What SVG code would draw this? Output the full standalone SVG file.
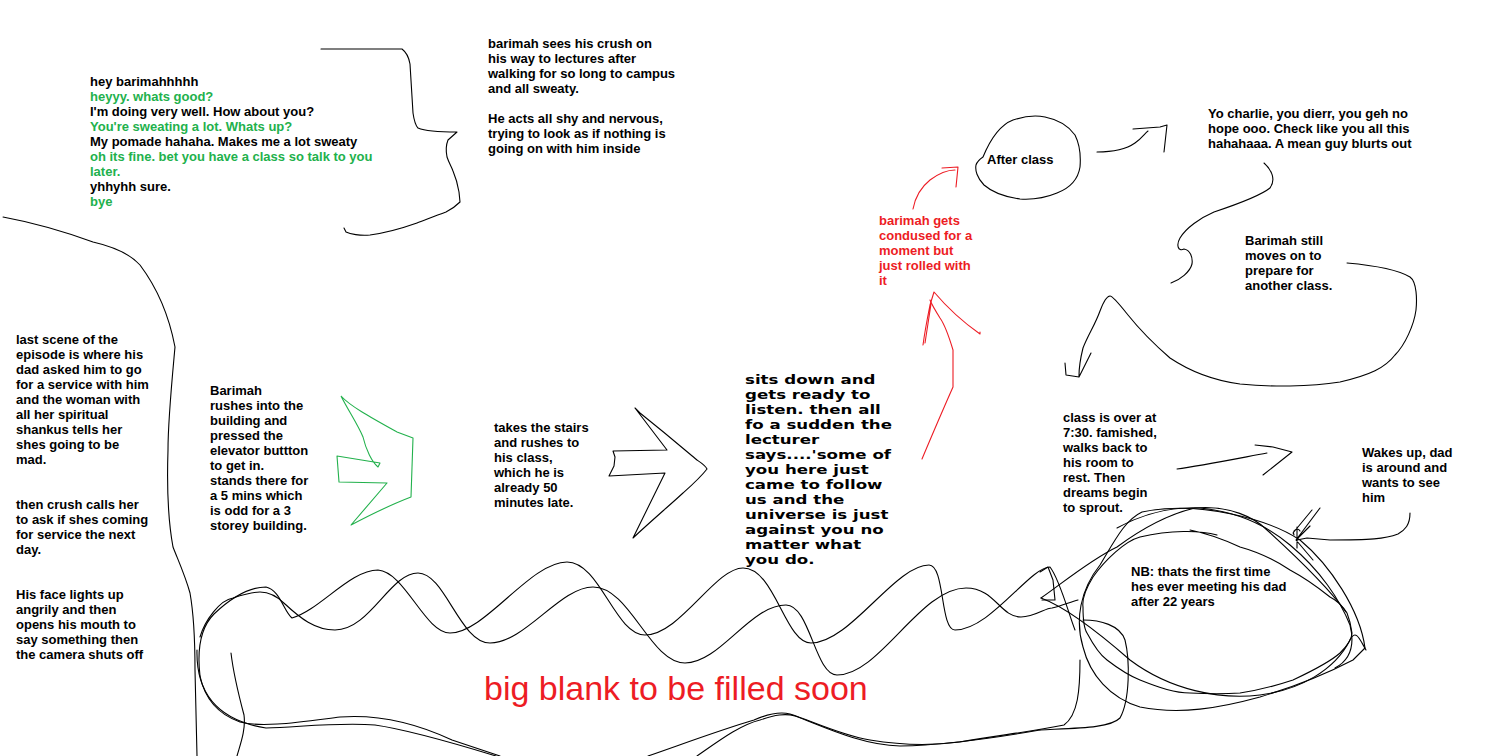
<svg xmlns="http://www.w3.org/2000/svg" width="1489" height="756" viewBox="0 0 1489 756">
<style>
.t{font-family:"Liberation Sans",Arial,sans-serif;font-weight:bold;font-size:13px;fill:#000}
.g{fill:#22b14c}
.r{fill:#ed1c24}
.w{font-family:"DejaVu Sans",Verdana,sans-serif;font-weight:bold;font-size:13px;fill:#000}
.big{font-family:"Liberation Sans",Arial,sans-serif;font-size:34px;fill:#ed1c24}
.ln{fill:none;stroke:#000;stroke-width:1.1;stroke-linejoin:round;stroke-linecap:round}
.gl{fill:none;stroke:#22b14c;stroke-width:1.1;stroke-linejoin:round}
.rl{fill:none;stroke:#ed1c24;stroke-width:1.1;stroke-linejoin:round;stroke-linecap:round}
</style>
<rect width="1489" height="756" fill="#fff"/>

<g id="scribbles">
<path class="ln" d="M321,49 L402,49 C406,52 409,58 410,64 L413,113 C414,120 416,126 418,128 C425,131 440,132 457,132 L448,140 C446,145 446,152 447,157 C449,163 452,168 453,171 C456,178 458,186 459,192 L460,202 C455,207 450,210 446,212 C435,216 425,220 417,223 C400,229 385,233 370,235 C360,236 350,234 346,232 L344,228"/>
<path class="ln" d="M3,217 C30,222 60,230 93,242 C115,247 130,254 140,265 C155,285 168,310 175,347 C172,380 168,420 168,450 C167,480 168,520 173,547 C178,560 185,575 190,593 C193,610 195,640 195,670 L197,756"/>
<path class="ln" d="M200,676 C197,650 200,628 214,614 C232,597 250,587 266,587 C280,590 284,612 292,618 C320,610 350,570 378,570 C405,572 425,633 450,633 C485,633 530,562 567,562 C600,562 615,635 645,635 C680,635 715,568 743,568 C775,568 785,643 811,643 C850,643 895,565 929,565 C945,565 940,630 955,630 C990,630 1030,567 1050,567 C1060,580 1068,612 1075,630"/>
<path class="ln" d="M200,637 C205,620 220,600 233,598 C245,594 252,592 260,592 C270,592 277,596 285,604 C300,618 315,630 335,630 C370,630 390,573 418,573 C445,573 460,643 490,643 C525,643 560,587 593,587 C630,587 650,663 685,663 C720,663 750,605 786,605 C810,605 815,675 837,675 C880,675 920,588 966,588 C995,588 1000,617 1021,617 C1035,617 1045,608 1052,608 C1062,606 1070,602 1078,600"/>
<path class="ln" d="M200,676 C205,700 220,715 240,722 C262,728 300,722 340,717 C380,714 420,725 452,740 L500,756"/>
<path class="ln" d="M197,650 C196,690 215,720 266,728 C300,727 340,722 375,725 C410,730 460,745 496,756"/>
<path class="ln" d="M231,653 C233,670 240,700 244,715 C246,730 240,745 237,756"/>
<path class="ln" d="M648,756 C680,745 720,730 754,720 C770,713 782,712 790,714 C810,720 840,735 870,740 C900,745 930,746 960,742 C1000,735 1030,732 1064,725 C1078,715 1080,690 1080,660"/>
<path class="ln" d="M697,756 C720,740 740,725 760,720 C775,715 785,713 795,716 C820,725 860,745 900,746 C950,745 1000,737 1040,730"/>
<path class="ln" d="M1040,572 L1048,567 L1053,580 L1055,600 L1042,600"/>
<path class="ln" d="M1142,512 C1200,500 1270,520 1300,540 C1330,565 1360,610 1365,648 L1353,660 C1330,672 1300,685 1260,697 C1220,708 1180,715 1140,707 C1110,698 1090,675 1083,647 C1075,620 1080,590 1100,565 C1115,540 1125,520 1142,512"/>
<path class="ln" d="M1217,535 C1200,530 1170,530 1140,537 C1125,541 1105,560 1093,577 C1085,590 1082,600 1083,607 C1083,620 1085,630 1087,633 C1095,648 1100,655 1107,660 C1120,670 1130,676 1140,680 C1160,688 1175,693 1190,693 C1210,694 1225,694 1240,693 C1260,690 1278,685 1293,680 C1310,672 1330,662 1340,653 C1348,645 1352,638 1352,633 C1351,625 1349,618 1347,613 C1342,605 1336,600 1330,597 C1315,585 1305,578 1290,570 C1275,560 1258,552 1240,547 C1225,540 1205,533 1190,530"/>
<path class="ln" d="M1041,598 C1060,585 1090,560 1117,547 C1140,530 1165,515 1195,508 C1230,505 1255,518 1267,530 C1300,560 1330,590 1346,612"/>
<path class="ln" d="M1041,598 C1060,605 1090,625 1130,660 C1170,690 1220,700 1260,695 C1300,690 1335,670 1350,640 C1356,628 1360,640 1366,650"/>
<path class="ln" d="M1083,620 C1100,620 1120,625 1125,640 C1130,660 1130,700 1120,718 C1110,728 1080,728 1040,730"/>
<path class="ln" d="M1117,528 C1150,510 1180,507 1200,508 C1240,512 1270,528 1290,545 C1320,570 1340,600 1350,625 C1355,645 1350,660 1335,668"/>
</g>

<g id="connectors">
<path class="gl" d="M341,396 C350,406 370,417 397,432 L413,438 L411,497 C390,505 370,515 351,525 L387,483 L339,482 L337,456 L380,463 L378,467 C372,462 366,450 363,437 C358,425 348,410 341,396"/>
<path class="ln" d="M635,408 L667,450 L613,451 L615,457 L614,466 L609,476 L665,473 L633,538 C650,522 670,505 683,493 C692,485 700,478 707,469 C705,465 700,462 697,460 C685,450 670,437 640,413 Z"/>
<path class="rl" d="M922,459 C930,440 945,405 953,387 L953,350 C950,340 945,325 940,318 C935,310 932,305 930,300"/>
<path class="rl" d="M923,345 C925,330 928,315 930,305 L934,292 C945,305 960,320 980,334 L980,332 M925,343 L931,304"/>
<path class="rl" d="M913,209 C915,198 920,188 930,180 C938,174 947,170 955,170 M942,168 L958,167 L956,187"/>
<path class="ln" d="M983,157 C990,140 1000,125 1013,120 C1025,116 1035,115 1045,117 C1060,120 1070,128 1075,135 C1080,145 1081,155 1080,167 C1078,180 1070,188 1057,193 C1045,198 1035,200 1020,199 C1005,197 992,192 984,185 C977,178 975,170 976,165 C977,162 980,159 983,157"/>
<path class="ln" d="M1097,152 C1110,152 1125,150 1135,143 C1142,138 1145,133 1148,131 M1133,129 L1160,127 L1167,125 L1164,152"/>
<path class="ln" d="M1264,163 C1272,170 1276,180 1270,188 C1260,196 1235,205 1214,212 C1200,218 1186,228 1180,238 C1176,245 1178,252 1184,249 C1190,250 1193,257 1192,264 C1190,272 1180,280 1171,283"/>
<path class="ln" d="M1347,263 C1370,265 1395,268 1410,277 C1417,282 1417,300 1416,310 C1414,325 1405,345 1395,355 C1385,368 1370,375 1340,382 C1310,387 1270,387 1240,384 C1210,380 1185,368 1170,358 C1155,345 1140,330 1128,315 C1120,305 1113,296 1110,296 C1106,296 1103,303 1100,311 C1095,325 1088,335 1083,348 C1080,360 1079,370 1079,376 M1065,363 L1066,375 L1079,377 L1086,363 L1091,353"/>
<path class="ln" d="M1177,469 C1200,466 1240,458 1267,453 M1255,445 L1273,447 L1292,452 L1263,475"/>
<path class="ln" d="M1410,513 C1410,525 1405,530 1398,534 C1385,539 1370,540 1330,540 L1307,538 L1297,540 M1293,533 L1312,510 M1320,508 L1296,540 L1310,526 M1296,540 L1313,560 M1297,527 L1297,548 M1294,535 C1292,530 1298,527 1300,531"/>
</g>

<g id="dialogue">
<text class="t" x="90" y="86">hey barimahhhhh<tspan class="g" x="90" dy="15">heyyy. whats good?</tspan><tspan x="90" dy="15">I'm doing very well. How about you?</tspan><tspan class="g" x="90" dy="15">You're sweating a lot. Whats up?</tspan><tspan x="90" dy="15">My pomade hahaha. Makes me a lot sweaty</tspan><tspan class="g" x="90" dy="15">oh its fine. bet you have a class so talk to you</tspan><tspan class="g" x="90" dy="15">later.</tspan><tspan x="90" dy="15">yhhyhh sure.</tspan><tspan class="g" x="90" dy="15">bye</tspan></text>
</g>

<g id="crush">
<text class="t" x="488" y="48">barimah sees his crush on<tspan x="488" dy="15">his way to lectures after</tspan><tspan x="488" dy="15">walking for so long to campus</tspan><tspan x="488" dy="15">and all sweaty.</tspan><tspan x="488" dy="30">He acts all shy and nervous,</tspan><tspan x="488" dy="15">trying to look as if nothing is</tspan><tspan x="488" dy="15">going on with him inside</tspan></text>
</g>

<g id="last-scene">
<text class="t" x="16" y="344">last scene of the<tspan x="16" dy="15">episode is where his</tspan><tspan x="16" dy="15">dad asked him to go</tspan><tspan x="16" dy="15">for a service with him</tspan><tspan x="16" dy="15">and the woman with</tspan><tspan x="16" dy="15">all her spiritual</tspan><tspan x="16" dy="15">shankus tells her</tspan><tspan x="16" dy="15">shes going to be</tspan><tspan x="16" dy="15">mad.</tspan><tspan x="16" dy="45">then crush calls her</tspan><tspan x="16" dy="15">to ask if shes coming</tspan><tspan x="16" dy="15">for service the next</tspan><tspan x="16" dy="15">day.</tspan><tspan x="16" dy="45">His face lights up</tspan><tspan x="16" dy="15">angrily and then</tspan><tspan x="16" dy="15">opens his mouth to</tspan><tspan x="16" dy="15">say something then</tspan><tspan x="16" dy="15">the camera shuts off</tspan></text>
</g>

<g id="elevator">
<text class="t" x="210" y="395">Barimah<tspan x="210" dy="15">rushes into the</tspan><tspan x="210" dy="15">building and</tspan><tspan x="210" dy="15">pressed the</tspan><tspan x="210" dy="15">elevator buttton</tspan><tspan x="210" dy="15">to get in.</tspan><tspan x="210" dy="15">stands there for</tspan><tspan x="210" dy="15">a 5 mins which</tspan><tspan x="210" dy="15">is odd for a 3</tspan><tspan x="210" dy="15">storey building.</tspan></text>
</g>

<g id="stairs">
<text class="t" x="494" y="432">takes the stairs<tspan x="494" dy="15">and rushes to</tspan><tspan x="494" dy="15">his class,</tspan><tspan x="494" dy="15">which he is</tspan><tspan x="494" dy="15">already 50</tspan><tspan x="494" dy="15">minutes late.</tspan></text>
</g>

<g id="lecture" transform="matrix(1.28,0,0,1,745,0)">
<text class="w" x="0" y="384">sits down and<tspan x="0" dy="15">gets ready to</tspan><tspan x="0" dy="15">listen. then all</tspan><tspan x="0" dy="15">fo a sudden the</tspan><tspan x="0" dy="15">lecturer</tspan><tspan x="0" dy="15">says....'some of</tspan><tspan x="0" dy="15">you here just</tspan><tspan x="0" dy="15">came to follow</tspan><tspan x="0" dy="15">us and the</tspan><tspan x="0" dy="15">universe is just</tspan><tspan x="0" dy="15">against you no</tspan><tspan x="0" dy="15">matter what</tspan><tspan x="0" dy="15">you do.</tspan></text>
</g>

<g id="confused">
<text class="t r" x="879" y="225">barimah gets<tspan x="879" dy="15">condused for a</tspan><tspan x="879" dy="15">moment but</tspan><tspan x="879" dy="15">just rolled with</tspan><tspan x="879" dy="15">it</tspan></text>
</g>

<g id="after-class">
<text class="t" x="987" y="164">After class</text>
</g>

<g id="mean-guy">
<text class="t" x="1208" y="118">Yo charlie, you dierr, you geh no<tspan x="1208" dy="15">hope ooo. Check like you all this</tspan><tspan x="1208" dy="15">hahahaaa. A mean guy blurts out</tspan></text>
</g>

<g id="moves-on">
<text class="t" x="1245" y="245">Barimah still<tspan x="1245" dy="15">moves on to</tspan><tspan x="1245" dy="15">prepare for</tspan><tspan x="1245" dy="15">another class.</tspan></text>
</g>

<g id="class-over">
<text class="t" x="1063" y="422">class is over at<tspan x="1063" dy="15">7:30. famished,</tspan><tspan x="1063" dy="15">walks back to</tspan><tspan x="1063" dy="15">his room to</tspan><tspan x="1063" dy="15">rest. Then</tspan><tspan x="1063" dy="15">dreams begin</tspan><tspan x="1063" dy="15">to sprout.</tspan></text>
</g>

<g id="wakes-up">
<text class="t" x="1362" y="457">Wakes up, dad<tspan x="1362" dy="15">is around and</tspan><tspan x="1362" dy="15">wants to see</tspan><tspan x="1362" dy="15">him</tspan></text>
</g>

<g id="nb">
<text class="t" x="1131" y="576">NB: thats the first time<tspan x="1131" dy="15">hes ever meeting his dad</tspan><tspan x="1131" dy="15">after 22 years</tspan></text>
</g>

<g id="blank">
<text class="big" x="484" y="700">big blank to be filled soon</text>
</g>
</svg>
